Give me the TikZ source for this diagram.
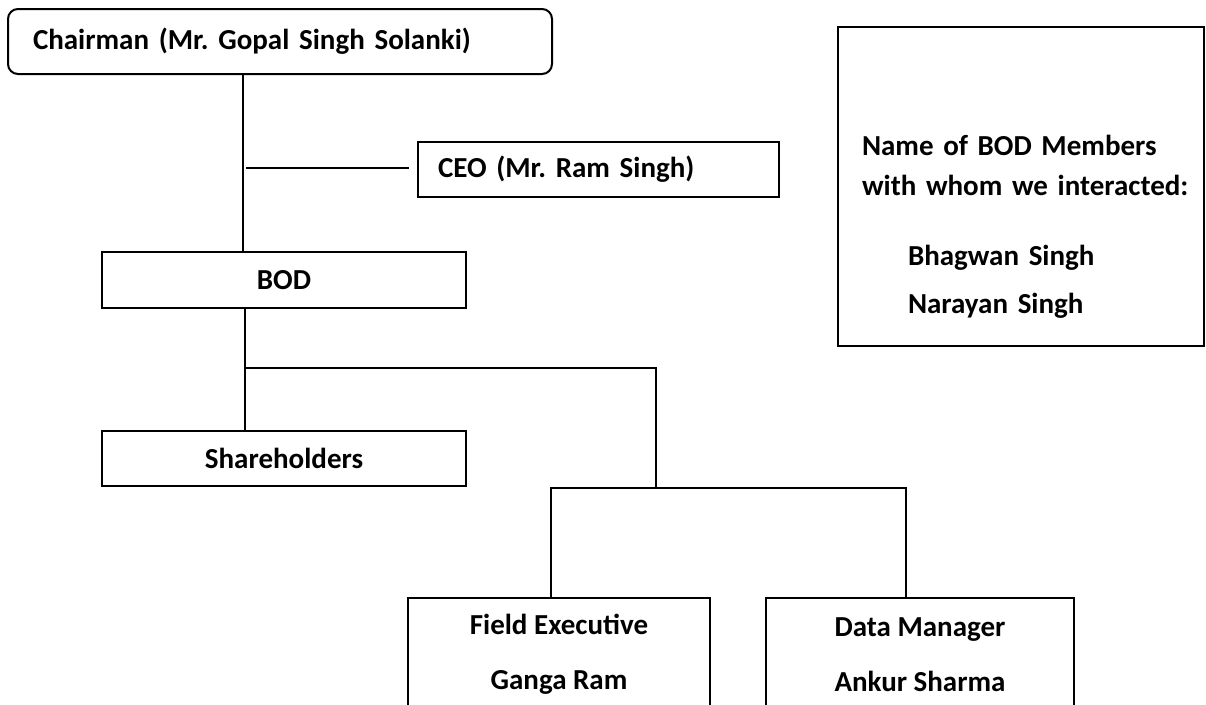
\documentclass[tikz,border=0pt]{standalone}
\usepackage{fontspec}
\setmainfont{Carlito}
\begin{document}
\frenchspacing
\begin{tikzpicture}[x=1pt,y=-1pt,
  every node/.style={font=\fontsize{29}{35}\selectfont\bfseries},
  box/.style={draw, line width=2pt, rectangle, inner sep=0pt},
  link/.style={draw, line width=2.2pt}]
\useasboundingbox (0,0) rectangle (1206,704);
\node[box, rounded corners=10pt, minimum width=544pt, minimum height=65pt, text width=494pt, align=left, inner xsep=25pt] (chair) at (280,41.5) {Chairman (Mr. Gopal Singh Solanki)};
\node[box, minimum width=361pt, minimum height=55pt, text width=321pt, align=left, inner xsep=20pt] (ceo) at (598.5,169.5) {CEO (Mr. Ram Singh)};
\node[box, minimum width=364pt, minimum height=56pt] (bod) at (284,280) {BOD};
\node[box, minimum width=364pt, minimum height=55pt] (sh) at (284,458.5) {Shareholders};
\node[box, minimum width=302pt, minimum height=113pt, align=center] (fe) at (559,654.5) {Field Executive\\[20pt]Ganga Ram};
\node[box, minimum width=308pt, minimum height=113pt, align=center] (dm) at (920,654.5) {Data Manager\\[20pt]Ankur Sharma};
\node[box, minimum width=366pt, minimum height=319pt, text width=318pt, align=left, inner xsep=24pt] (mem) at (1021,186.5)
  {\mbox{}\\[65pt]\mbox{Name of BOD Members}\\[5pt]\mbox{with whom we interacted:}\\[35pt]\mbox{\hspace*{46pt}Bhagwan Singh}\\[13pt]\mbox{\hspace*{46pt}Narayan Singh}};
\coordinate (j1) at (243,168);
\coordinate (j2) at (245,368);
\coordinate (j3) at (656,368);
\coordinate (j4) at (656,488);
\coordinate (fx) at (551,488);
\coordinate (dx) at (906,488);
\draw[link] (chair.south -| j1) -- (bod.north -| j1);
\draw[link, shorten <=3pt, shorten >=8pt] (j1) -- (j1 -| ceo.west);
\draw[link] (bod.south -| j2) -- (sh.north -| j2);
\draw[link] (j2) -- (j3) -- (j4);
\draw[link] (fe.north -| fx) -- (fx) -- (dx) -- (dm.north -| dx);
\end{tikzpicture}
\end{document}
